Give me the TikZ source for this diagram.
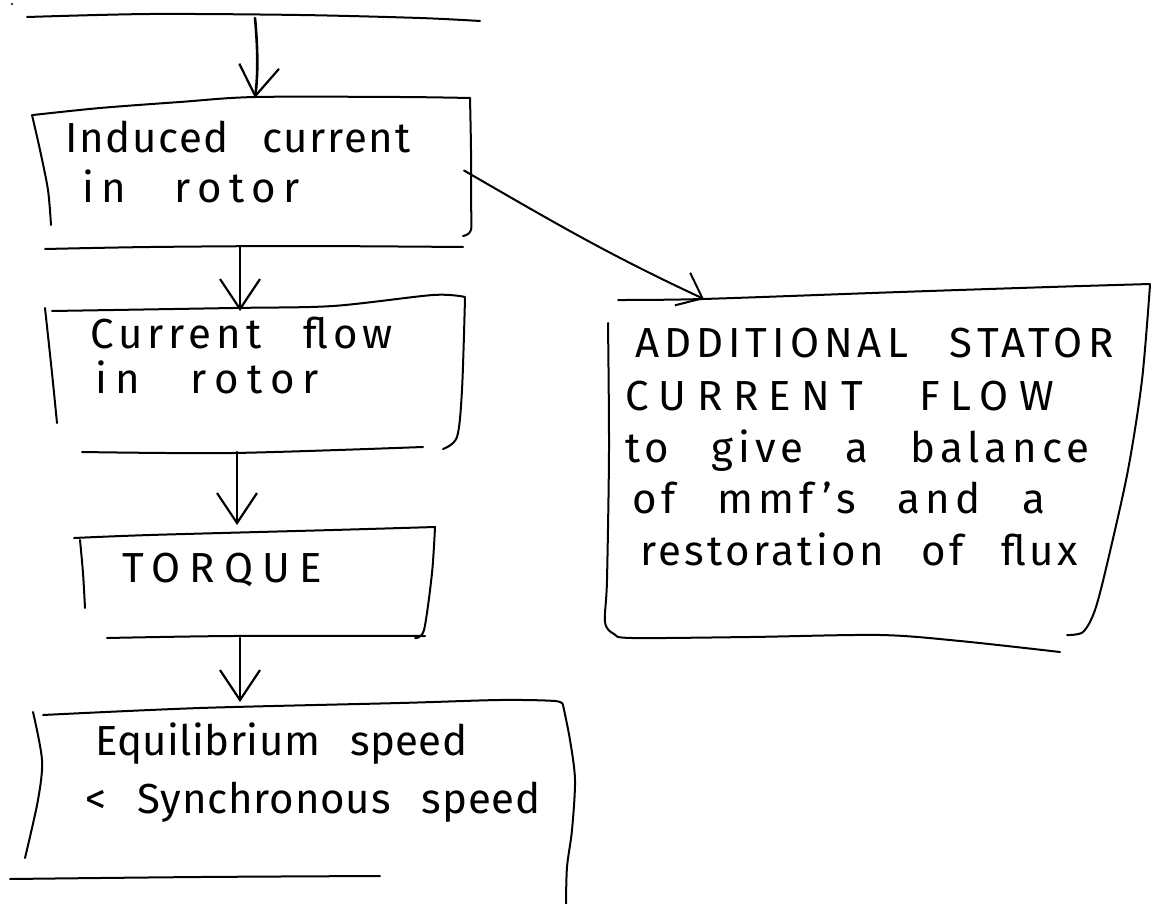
\documentclass[tikz,border=0pt]{standalone}
\usepackage{fontspec}
\setmainfont{Fira Sans}[WordSpace=2.6]
\usetikzlibrary{arrows.meta,calc}
\tikzset{
  pen/.style={line width=2pt, line cap=round, line join=round},
  arr/.style={line width=2.6pt, line cap=round, -{Straight Barb[length=30pt,width=40pt,line width=2.2pt]}},
  frame/.style={draw=none, rectangle, inner sep=0pt, outer sep=0pt},
  hand/.style={font=\fontsize{42}{48}\selectfont\addfontfeatures{LetterSpace=#1}, anchor=base west, inner sep=0pt},
  hand/.default=5,
}
\begin{document}
\begin{tikzpicture}[x=1pt,y=-1pt]
\useasboundingbox (0,0) rectangle (1151,904);
\fill[white] (0,0) rectangle (1151,904);

% invisible frames for connectors
\node[frame, minimum width=450pt, minimum height=0pt] (b0) at (255,18) {};
\node[frame, minimum width=438pt, minimum height=149pt] (b1) at (255,172.5) {};
\node[frame, minimum width=420pt, minimum height=141pt] (b2) at (240,381.5) {};
\node[frame, minimum width=360pt, minimum height=113pt] (b3) at (237,581.5) {};
\node[frame, minimum width=540pt, minimum height=176pt] (b4) at (240,790) {};
\node[frame, minimum width=544pt, minimum height=341pt] (b5) at (878,469.5) {};

% stray dot
\fill (12,4) circle (1.2);

% top line
\draw[pen] plot[smooth] coordinates {(27,17) (150,14) (300,15) (420,18) (480,21)};

% box 1
\draw[pen] plot[smooth] coordinates {(33,115) (100,108) (180,102) (255,97) (400,97) (470,98)};
\draw[pen] plot[smooth] coordinates {(470,98) (471,150) (471,200) (471,230) (463,236)};
\draw[pen] plot[smooth] coordinates {(32,115) (40,150) (48,190) (51,225)};
\draw[pen] plot[smooth] coordinates {(45,249) (150,247) (300,246) (463,247)};

% box 2
\draw[pen] plot[smooth] coordinates {(52,311) (233,308) (333,306) (433,295) (465,297)};
\draw[pen] plot[smooth] coordinates {(45,308) (52,373) (57,423)};
\draw[pen] plot[smooth] coordinates {(465,298) (462,390) (457,437) (443,449)};
\draw[pen] plot[smooth] coordinates {(82,452) (233,453) (423,447)};

% box 3
\draw[pen] plot[smooth] coordinates {(74,538) (150,535) (333,530) (435,527)};
\draw[pen] plot[smooth] coordinates {(80,540) (83,573) (85,608)};
\draw[pen] plot[smooth] coordinates {(435,527) (432,573) (424,630) (415,638)};
\draw[pen] plot[smooth] coordinates {(107,638) (233,636) (425,636)};

% box 4
\draw[pen] plot[smooth] coordinates {(43,715) (200,708) (400,703) (500,700) (555,701) (563,705)};
\draw[pen] plot[smooth] coordinates {(33,712) (42,760) (38,800) (25,858)};
\draw[pen] plot[smooth] coordinates {(563,705) (570,740) (575,780) (572,830) (567,867) (566,904)};
\draw[pen] plot[smooth] coordinates {(10,879) (200,877) (380,876)};

% box 5
\draw[pen] plot[smooth] coordinates {(618,300) (703,299) (900,292) (1050,287) (1150,284)};
\draw[pen] plot[smooth] coordinates {(608,323) (609,450) (607,580) (605,622) (614,634) (632,638) (750,637) (880,635) (960,641) (1060,652)};
\draw[pen] plot[smooth] coordinates {(1150,285) (1142,380) (1128,470) (1108,560) (1095,610) (1083,632) (1067,635)};

% connectors
\draw[arr] (b0.south) .. controls (258,50) and (258,75) .. (b1.north);
\draw[arr] (b1.south -| b2.north) -- (b2.north);
\draw[arr] (b2.south -| b3.north) -- (b3.north);
\draw[arr] (b3.south -| b4.north) -- (b4.north);
\draw[pen, -{Straight Barb[length=22pt,width=36pt,line width=2pt]}] ($(b1.east)+(-10,-2)$) to[out=-30,in=155] ($(b5.north west)!0.18!(b5.north east)$);

% texts
\node[hand=4] (t1a) at (65,153) {Induced current};
\node[hand=18] (t1b) at (82,203) {in rotor};
\node[hand=12] (t2a) at (90,348) {Current flow};
\node[hand=20] (t2b) at (95,393) {in rotor};
\node[hand=22] (t3) at (122,582) {TORQUE};
\node[hand=1] (t4a) at (95,755) {Equilibrium speed};
\node[hand=2] (t4b) at (85,813) {< Synchronous speed};
\node[hand=12] (t5a) at (635,357) {ADDITIONAL STATOR};
\node[hand=25] (t5b) at (625,410) {CURRENT FLOW};
\node[hand=12] (t5c) at (625,462) {to give a balance};
\node[hand=12] (t5d) at (632,513) {of mmf's and a};
\node[hand=8] (t5e) at (640,565) {restoration of flux};
\end{tikzpicture}
\end{document}
